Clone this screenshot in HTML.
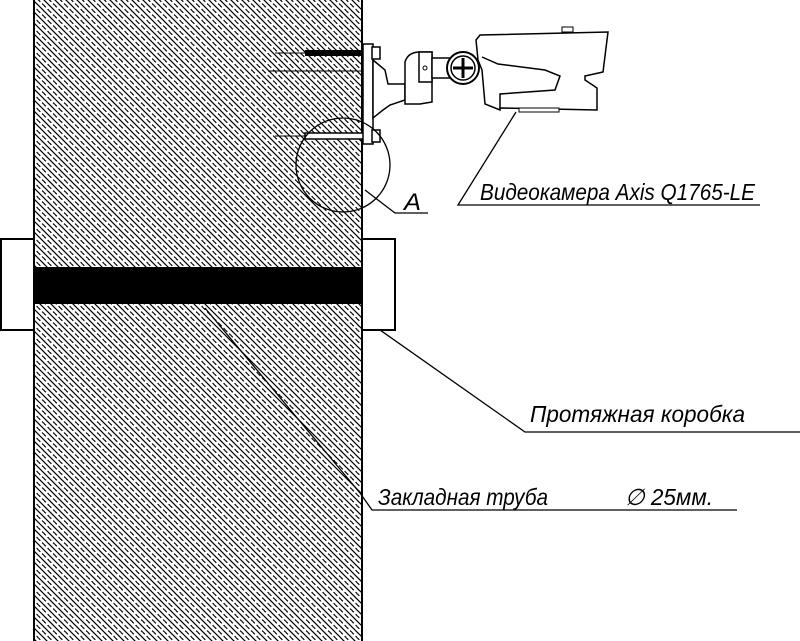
<!DOCTYPE html>
<html><head><meta charset="utf-8"><style>
html,body{margin:0;padding:0;background:#fff}
svg{display:block}
text{font-family:"Liberation Sans",sans-serif;font-style:italic;fill:#000}
</style></head><body>
<svg width="800" height="641" viewBox="0 0 800 641" xmlns="http://www.w3.org/2000/svg">
<defs>
<pattern id="h" width="11" height="11" patternUnits="userSpaceOnUse">
<path d="M-1 -1 L12 12 M-6.5 4.5 L0.5 11.5 M4.5 -6.5 L11.5 0.5" stroke="#000" stroke-width="1.2"/>
<path d="M-1 4.5 L5.5 11 M4.5 -1 L11 5.5" stroke="#000" stroke-width="1.2" stroke-dasharray="4 2.5"/>
</pattern>
</defs>
<rect x="34" y="0" width="328" height="641" fill="url(#h)"/>
<line x1="34" y1="0" x2="34" y2="641" stroke="#000" stroke-width="2"/>
<line x1="362" y1="0" x2="362" y2="641" stroke="#000" stroke-width="2"/>
<rect x="34" y="267" width="328" height="37" fill="#000"/>
<rect x="1" y="239" width="33" height="91" fill="#fff" stroke="#000" stroke-width="2"/>
<rect x="362" y="239" width="33" height="91" fill="#fff" stroke="#000" stroke-width="2"/>
<!-- bolts -->
<rect x="305" y="50" width="60" height="6" fill="#000"/>
<rect x="305" y="133" width="60" height="6" fill="#fff" stroke="#000" stroke-width="1.5"/>
<line x1="275" y1="53" x2="305" y2="53" stroke="#000"/>
<line x1="268" y1="71" x2="375" y2="71" stroke="#000"/>
<line x1="275" y1="136" x2="305" y2="136" stroke="#000"/>
<rect x="363" y="44" width="10" height="100" fill="#fff" stroke="#000" stroke-width="1.5"/>
<rect x="372" y="47" width="8" height="12" fill="#fff" stroke="#000" stroke-width="1.5"/>
<rect x="372" y="130" width="8" height="12" fill="#fff" stroke="#000" stroke-width="1.5"/>
<!-- bracket -->
<path d="M373 60 L385 70 L388 84 L405 84 L405 100 L390 105 L383 110 L373 118 Z" fill="#fff" stroke="#000" stroke-width="1.5"/>
<path d="M405 84 L405 62 Q408 52 420 52 L432 52 L432 102 L420 104 L405 104 Z" fill="#fff" stroke="#000" stroke-width="1.5"/>
<rect x="419" y="52" width="13" height="30" fill="#fff" stroke="#000" stroke-width="1.5"/>
<circle cx="425" cy="68" r="2" fill="none" stroke="#000"/>
<rect x="432" y="58" width="20" height="20" fill="#fff" stroke="#000" stroke-width="1.5"/>
<circle cx="463" cy="68" r="16" fill="#fff" stroke="#000" stroke-width="2"/>
<circle cx="463" cy="68" r="12" fill="none" stroke="#000" stroke-width="1.5"/>
<path d="M463 58 V78 M453 68 H473" stroke="#000" stroke-width="3"/>
<!-- camera -->
<path d="M476 40 L480 35 L608 32 L603 72 L585 76 L585 80 L597 88 L597 110 L500 108 L500 110 L485 104 L482 70 L478 60 Z" fill="#fff" stroke="#000" stroke-width="1.5"/>
<path d="M482 57 L498 64 L545 70 L560 76 L555 90 L500 94 L500 108" fill="none" stroke="#000" stroke-width="1.5"/>
<rect x="562" y="27" width="11" height="5" fill="#fff" stroke="#000"/>
<rect x="519" y="108" width="40" height="4" fill="#fff" stroke="#000"/>
<!-- circle A -->
<circle cx="343" cy="165" r="47" fill="none" stroke="#000" stroke-width="1.3"/>
<polyline points="365,190 395,213 428,213" fill="none" stroke="#000" stroke-width="1.3"/>
<text x="404" y="210" font-size="24" textLength="17" lengthAdjust="spacingAndGlyphs">A</text>
<!-- camera label -->
<polyline points="516,112 458,205 760,205" fill="none" stroke="#000" stroke-width="1.3"/>
<text x="480" y="200" font-size="23" textLength="275" lengthAdjust="spacingAndGlyphs">Видеокамера Axis Q1765-LE</text>
<!-- box label -->
<polyline points="380,330 525,432 800,432" fill="none" stroke="#000" stroke-width="1.3"/>
<text x="530" y="422" font-size="23" textLength="215" lengthAdjust="spacingAndGlyphs">Протяжная коробка</text>
<!-- pipe label -->
<line x1="205" y1="308" x2="360" y2="493" stroke="#000" stroke-width="1.3"/>
<polyline points="360,493 372,510 737,510" fill="none" stroke="#000" stroke-width="1.3"/>
<text x="378" y="505" font-size="23" textLength="170" lengthAdjust="spacingAndGlyphs">Закладная труба</text>
<text x="625" y="505" font-size="23" textLength="88" lengthAdjust="spacingAndGlyphs">∅  25мм.</text>
</svg>
</body></html>
